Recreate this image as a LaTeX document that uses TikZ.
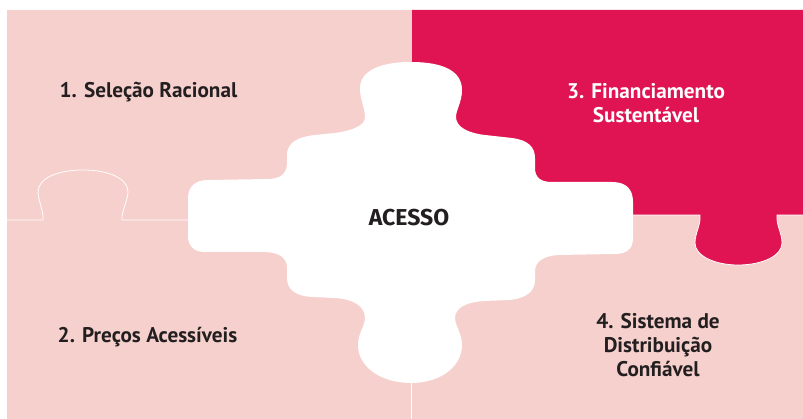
\documentclass[tikz,border=0pt]{standalone}
\usepackage{fontspec}
\setmainfont{PT Sans}
\newfontfamily\heavyfont{Fira Sans}
\definecolor{piecepink}{RGB}{246,208,204}
\definecolor{piecered}{RGB}{224,20,82}
\definecolor{inkdark}{RGB}{35,31,32}
\begin{document}
\begin{tikzpicture}[x=1pt,y=-1pt,
  label1/.style={font=\fontsize{21.2}{24}\selectfont\bfseries, text=inkdark, inner sep=0pt, align=center, anchor=base},
  label3/.style={label1, text=white},
  centerlabel/.style={label1, font=\fontsize{23}{26}\selectfont\heavyfont\bfseries},
  seam/.style={draw=white, line width=0.8pt}]
\useasboundingbox (0,0) rectangle (803,419);
% pink base
\fill[piecepink] (7,10) rectangle (803,419);
% red piece with knob
\fill[piecered] (412,10) -- (803,10) -- (803,215) -- (777,215)
  .. controls (776,225) and (782,233) .. (782,243)
  .. controls (782,256) and (762,265) .. (738,265)
  .. controls (715,265) and (695,256) .. (695,243)
  .. controls (695,233) and (701,225) .. (700,215)
  -- (412,215) -- cycle;
\draw[seam] (633,215) -- (700,215)
  .. controls (701,225) and (695,233) .. (695,243)
  .. controls (695,256) and (715,265) .. (738,265)
  .. controls (762,265) and (782,256) .. (782,243)
  .. controls (782,233) and (776,225) .. (777,215) -- (803,215);
% seam between pieces 1 and 2
\draw[seam] (7,220) -- (43,220)
  .. controls (44,212) and (38,200) .. (38,192)
  .. controls (38,178) and (58,170) .. (83,170)
  .. controls (108,170) and (128,178) .. (128,192)
  .. controls (128,200) and (121,212) .. (122,220) -- (190,220);
% seam between pieces 2 and 4
\draw[seam] (411,380) -- (411,419);
% central white piece
\fill[white] (411,62)
  .. controls (445,62) and (462,72) .. (462,90)
  .. controls (462,102) and (456,110) .. (456,117)
  .. controls (456,127) and (468,133) .. (485,135)
  -- (512,138)
  .. controls (528,140) and (535,147) .. (535,158)
  -- (535,168)
  .. controls (535,177) and (540,182) .. (552,182)
  -- (612,182)
  .. controls (626,182) and (633,189) .. (633,202)
  -- (633,238)
  .. controls (633,249) and (627,254) .. (614,254)
  -- (558,255)
  .. controls (543,256) and (535,262) .. (535,271)
  -- (535,280)
  .. controls (535,292) and (525,299) .. (508,300)
  -- (485,301)
  .. controls (466,302) and (455,308) .. (455,318)
  .. controls (455,326) and (462,333) .. (462,345)
  .. controls (462,367) and (440,383) .. (411,383)
  .. controls (381,383) and (358,367) .. (358,345)
  .. controls (358,333) and (365,326) .. (365,318)
  .. controls (365,306) and (353,299) .. (335,298)
  -- (312,297)
  .. controls (296,296) and (287,290) .. (287,278)
  -- (287,268)
  .. controls (287,258) and (280,253) .. (266,252)
  -- (205,252)
  .. controls (194,252) and (188,246) .. (188,236)
  -- (188,198)
  .. controls (188,187) and (195,180) .. (208,180)
  -- (268,179)
  .. controls (281,179) and (287,173) .. (287,163)
  -- (287,155)
  .. controls (287,143) and (297,137) .. (315,135)
  -- (335,133)
  .. controls (355,130) and (365,125) .. (365,117)
  .. controls (365,108) and (360,100) .. (360,88)
  .. controls (360,72) and (378,62) .. (411,62) -- cycle;
% labels (base anchor = baseline of the last line)
\node[label1] (t1) at (148.5,98) {1. Seleção Racional};
\node[label1] (t2) at (147.5,343) {2. Preços Acessíveis};
\node[label3] (t3) at (646,123) {3. Financiamento\\Sustentável};
\node[label1] (t4) at (658,377) {4. Sistema de\\Distribuição\\Confiável};
\node[centerlabel] (t0) at (409,226) {ACESSO};
\end{tikzpicture}
\end{document}
